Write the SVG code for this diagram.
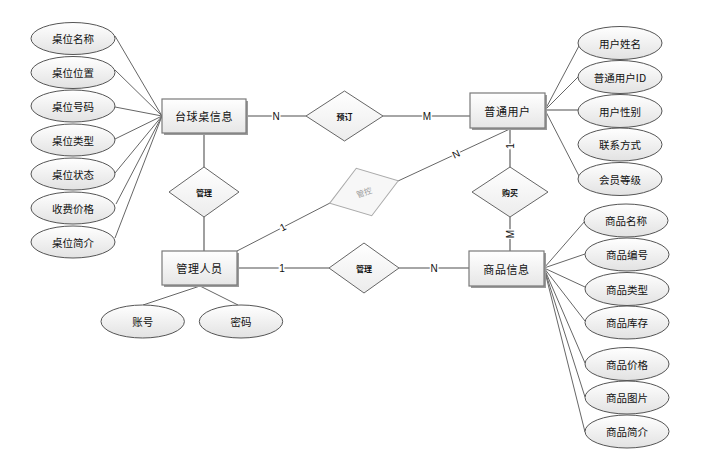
<svg xmlns="http://www.w3.org/2000/svg" width="706" height="453" viewBox="0 0 706 453">
<defs>
<linearGradient id="ge" x1="0" y1="0" x2="0" y2="1"><stop offset="0" stop-color="#ffffff"/><stop offset="1" stop-color="#e2e2e2"/></linearGradient>
<linearGradient id="gr" x1="0" y1="0" x2="0" y2="1"><stop offset="0" stop-color="#ffffff"/><stop offset="1" stop-color="#e6e6e6"/></linearGradient>
<linearGradient id="gd" x1="0" y1="0" x2="0" y2="1"><stop offset="0" stop-color="#ffffff"/><stop offset="1" stop-color="#ececec"/></linearGradient>
</defs>
<style>
.ent rect.s{fill:#9a9a9a;stroke:none}
.ent rect.b{fill:url(#gr);stroke:#7a7a7a;stroke-width:1.2}
.att ellipse{fill:url(#ge);stroke:#555;stroke-width:1}
.rel polygon{fill:url(#gd);stroke:#666;stroke-width:1}
.rel.faint polygon{stroke:#aaa;fill:#f7f7f7}
text{font-family:"Noto Sans CJK SC","Liberation Sans",sans-serif;text-anchor:middle;dominant-baseline:central;fill:#111}
.ent text{font-size:11px;letter-spacing:0.6px}
.att text{font-size:10.5px}
.rel text{font-size:8px;font-weight:bold}
.rel.faint text{fill:#999;font-weight:normal}
.conn line,.conn polyline{stroke:#666;stroke-width:1;fill:none}
.conn line.t{stroke:#888;stroke-width:1.6}
.lab text{font-family:"Liberation Sans",sans-serif;font-size:10px;stroke:#fff;stroke-width:3;paint-order:stroke;fill:#111}
</style>
<g id="connectors" class="conn">
<line x1="115" y1="36" x2="162" y2="116"/>
<line x1="115" y1="70" x2="162" y2="116"/>
<line x1="115" y1="107" x2="162" y2="116"/>
<line x1="115" y1="139" x2="162" y2="116"/>
<line x1="115" y1="173" x2="162" y2="116"/>
<line x1="116" y1="204" x2="162" y2="116"/>
<line x1="115" y1="238" x2="162" y2="116"/>
<line class="t" x1="246" y1="116" x2="306" y2="116"/>
<line class="t" x1="383" y1="116" x2="470" y2="116"/>
<line class="t" x1="204" y1="133" x2="204" y2="167"/>
<line class="t" x1="204" y1="217" x2="204" y2="251"/>
<line class="t" x1="237" y1="268" x2="329" y2="268"/>
<line class="t" x1="399" y1="268" x2="469" y2="268"/>
<line class="t" x1="510" y1="128" x2="510" y2="167"/>
<line class="t" x1="510" y1="217" x2="510" y2="251"/>
<line x1="512" y1="128" x2="398" y2="181"/>
<line x1="330" y1="203" x2="237" y2="251"/>
<line x1="200" y1="286" x2="143" y2="305"/>
<line x1="200" y1="286" x2="238" y2="305"/>
<line x1="545" y1="110" x2="580" y2="44"/>
<line x1="545" y1="110" x2="578" y2="77"/>
<line class="t" x1="545" y1="110" x2="578" y2="110"/>
<line x1="545" y1="110" x2="579" y2="176"/>
<line x1="544" y1="268" x2="585" y2="221"/>
<line x1="544" y1="268" x2="585" y2="254"/>
<line x1="544" y1="268" x2="585" y2="287"/>
<line x1="544" y1="268" x2="585" y2="321"/>
<line x1="544" y1="268" x2="585" y2="363"/>
<line x1="544" y1="268" x2="585" y2="397"/>
<line x1="544" y1="268" x2="585" y2="432"/>
</g>
<g id="labels" class="lab">
<text x="276" y="116">N</text>
<text x="427" y="116">M</text>
<text x="282" y="268">1</text>
<text x="434" y="268">N</text>
<text x="510" y="146" transform="rotate(-90 510 146)">1</text>
<text x="510.5" y="234" transform="rotate(-90 510.5 234)">M</text>
<text x="456" y="154" transform="rotate(-25 456 154)">N</text>
<text x="283" y="227" transform="rotate(-27 283 227)">1</text>
</g>
<g id="e-table" class="ent"><rect class="s" x="164" y="101" width="84" height="34"/><rect class="b" x="162" y="99" width="84" height="34"/><text x="204" y="116">台球桌信息</text></g>
<g id="e-user" class="ent"><rect class="s" x="472" y="95" width="75" height="35"/><rect class="b" x="470" y="93" width="75" height="35"/><text x="507.5" y="110.5">普通用户</text></g>
<g id="e-admin" class="ent"><rect class="s" x="164" y="253" width="75" height="34"/><rect class="b" x="162" y="251" width="75" height="34"/><text x="199.5" y="268">管理人员</text></g>
<g id="e-goods" class="ent"><rect class="s" x="471" y="253" width="75" height="35"/><rect class="b" x="469" y="251" width="75" height="35"/><text x="506.5" y="268.5">商品信息</text></g>
<g id="r-book" class="rel"><polygon points="306,116 344.5,91 383,116 344.5,141"/><text x="344.5" y="116">预订</text></g>
<g id="r-manage1" class="rel"><polygon points="169,192 204,167 239,192 204,217"/><text x="204" y="192">管理</text></g>
<g id="r-manage2" class="rel"><polygon points="329,268 364,243 399,268 364,293"/><text x="364" y="268">管理</text></g>
<g id="r-buy" class="rel"><polygon points="472,192 510,167 548,192 510,217"/><text x="510" y="192">购买</text></g>
<g id="r-control" class="rel faint" transform="rotate(-18 364 192)"><polygon points="328,192 364,167 400,192 364,217"/><text x="364" y="192">管控</text></g>
<g id="a-t1" class="att"><ellipse cx="73" cy="38.5" rx="42" ry="16"/><text x="73" y="38.5">桌位名称</text></g>
<g id="a-t2" class="att"><ellipse cx="73" cy="72.5" rx="42" ry="16"/><text x="73" y="72.5">桌位位置</text></g>
<g id="a-t3" class="att"><ellipse cx="73" cy="106" rx="42" ry="16"/><text x="73" y="106">桌位号码</text></g>
<g id="a-t4" class="att"><ellipse cx="73" cy="140" rx="42" ry="16"/><text x="73" y="140">桌位类型</text></g>
<g id="a-t5" class="att"><ellipse cx="73" cy="174" rx="42" ry="16"/><text x="73" y="174">桌位状态</text></g>
<g id="a-t6" class="att"><ellipse cx="73" cy="208" rx="42" ry="16"/><text x="73" y="208">收费价格</text></g>
<g id="a-t7" class="att"><ellipse cx="73" cy="242" rx="42" ry="16"/><text x="73" y="242">桌位简介</text></g>
<g id="a-u1" class="att"><ellipse cx="620" cy="43" rx="42" ry="16.5"/><text x="620" y="43">用户姓名</text></g>
<g id="a-u2" class="att"><ellipse cx="620" cy="77" rx="42" ry="16.5"/><text x="620" y="77">普通用户ID</text></g>
<g id="a-u3" class="att"><ellipse cx="620" cy="111" rx="42" ry="16.5"/><text x="620" y="111">用户性别</text></g>
<g id="a-u4" class="att"><ellipse cx="620" cy="144.5" rx="42" ry="16.5"/><text x="620" y="144.5">联系方式</text></g>
<g id="a-u5" class="att"><ellipse cx="620" cy="179" rx="42" ry="16.5"/><text x="620" y="179">会员等级</text></g>
<g id="a-g1" class="att"><ellipse cx="626" cy="220.5" rx="42" ry="16.5"/><text x="626" y="220.5">商品名称</text></g>
<g id="a-g2" class="att"><ellipse cx="627" cy="254.5" rx="42" ry="16.5"/><text x="627" y="254.5">商品编号</text></g>
<g id="a-g3" class="att"><ellipse cx="627" cy="289" rx="42" ry="16.5"/><text x="627" y="289">商品类型</text></g>
<g id="a-g4" class="att"><ellipse cx="627" cy="322.5" rx="42" ry="16.5"/><text x="627" y="322.5">商品库存</text></g>
<g id="a-g5" class="att"><ellipse cx="627" cy="364" rx="42" ry="16.5"/><text x="627" y="364">商品价格</text></g>
<g id="a-g6" class="att"><ellipse cx="627" cy="397.5" rx="42" ry="16.5"/><text x="627" y="397.5">商品图片</text></g>
<g id="a-g7" class="att"><ellipse cx="627" cy="431.5" rx="42" ry="16.5"/><text x="627" y="431.5">商品简介</text></g>
<g id="a-a1" class="att"><ellipse cx="142.7" cy="321.5" rx="41.7" ry="16.5"/><text x="142.7" y="321.5">账号</text></g>
<g id="a-a2" class="att"><ellipse cx="241" cy="321.5" rx="41.7" ry="16.5"/><text x="241" y="321.5">密码</text></g>
</svg>
